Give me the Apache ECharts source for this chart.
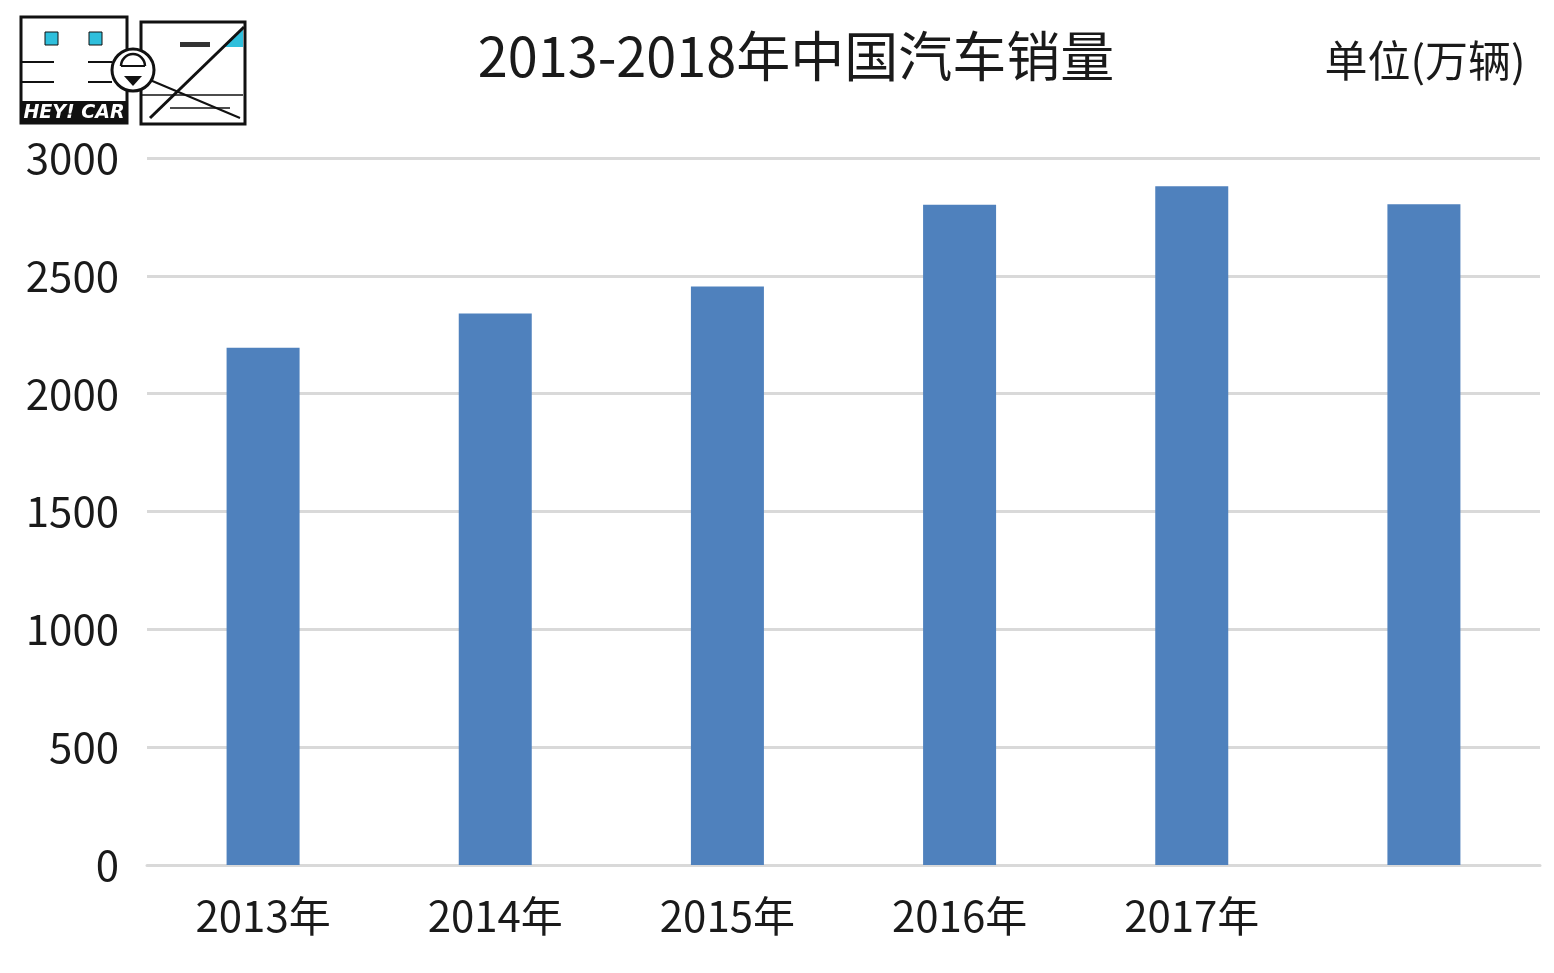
<!DOCTYPE html>
<html>
<head>
<meta charset="utf-8">
<script src="https://cdn.jsdelivr.net/npm/echarts@6/dist/echarts.min.js"></script>
<style>
html,body{margin:0;padding:0;background:#fff;}
#main{width:1554px;height:973px;}
</style>
</head>
<body>
<div id="main"></div>
<script>
const categories = ['2013年', '2014年', '2015年', '2016年', '2017年', ''];
const sales = [2195, 2340, 2455, 2802, 2880, 2804];
const titleText = '2013-2018年中国汽车销量';
const unitText = '单位(万辆)';

const FONT = '"Noto Sans CJK SC", "Noto Sans", sans-serif';
const chart = echarts.init(document.getElementById('main'));

const logo = [
  // left box
  {type:'rect', shape:{x:21,y:17,width:106,height:106}, style:{fill:'#fff', stroke:'#111', lineWidth:3}},
  {type:'rect', shape:{x:21,y:101,width:106,height:23}, style:{fill:'#111'}},
  {type:'text', style:{x:74, y:113, text:'HEY! CAR', fill:'#fff', font:'italic bold 19px "DejaVu Sans", sans-serif', align:'center', verticalAlign:'middle'}},
  {type:'rect', shape:{x:45,y:32,width:13,height:13}, style:{fill:'#2fbfdc', stroke:'#111', lineWidth:1}},
  {type:'rect', shape:{x:89,y:32,width:13,height:13}, style:{fill:'#2fbfdc', stroke:'#111', lineWidth:1}},
  {type:'line', shape:{x1:21,y1:62,x2:54,y2:62}, style:{stroke:'#111', lineWidth:2}},
  {type:'line', shape:{x1:21,y1:82,x2:54,y2:82}, style:{stroke:'#111', lineWidth:2}},
  {type:'line', shape:{x1:88,y1:62,x2:112,y2:62}, style:{stroke:'#111', lineWidth:2}},
  {type:'line', shape:{x1:88,y1:82,x2:112,y2:82}, style:{stroke:'#111', lineWidth:2}},
  // right box
  {type:'rect', shape:{x:141,y:22,width:104,height:102}, style:{fill:'#fff', stroke:'#111', lineWidth:3}},
  {type:'polygon', shape:{points:[[243,28],[243,47],[224,47]]}, style:{fill:'#2fbfdc'}},
  {type:'line', shape:{x1:244,y1:27,x2:150,y2:118}, style:{stroke:'#111', lineWidth:3}},
  {type:'line', shape:{x1:150,y1:80,x2:240,y2:118}, style:{stroke:'#111', lineWidth:2}},
  {type:'line', shape:{x1:141,y1:95,x2:243,y2:95}, style:{stroke:'#111', lineWidth:1.5}},
  {type:'line', shape:{x1:170,y1:108,x2:230,y2:108}, style:{stroke:'#111', lineWidth:1.5}},
  {type:'rect', shape:{x:180,y:42,width:30,height:5}, style:{fill:'#333'}},
  // face
  {type:'circle', shape:{cx:133,cy:70,r:21}, style:{fill:'#fff', stroke:'#111', lineWidth:3}},
  {type:'arc', shape:{cx:133,cy:66,r:12,startAngle:Math.PI,endAngle:2*Math.PI}, style:{stroke:'#111', lineWidth:2.5, fill:null}},
  {type:'line', shape:{x1:121,y1:66,x2:145,y2:66}, style:{stroke:'#111', lineWidth:2}},
  {type:'polygon', shape:{points:[[124,76],[142,76],[133,86]]}, style:{fill:'#111'}}
];

chart.setOption({
  backgroundColor: '#fff',
  animation: false,
  title: [
    {text: titleText, left: 791, top: 24, textAlign: 'center',
     textStyle: {fontFamily: FONT, fontSize: 54, fontWeight: 'normal', color: '#1a1a1a'}},
    {text: unitText, left: 1420, top: 34, textAlign: 'center',
     textStyle: {fontFamily: FONT, fontSize: 43, fontWeight: 'normal', color: '#1a1a1a'}}
  ],
  grid: {left: 147, right: 14, top: 158, bottom: 108, containLabel: false},
  xAxis: {
    type: 'category',
    data: categories,
    axisLine: {lineStyle: {color: '#d9d9d9', width: 3}},
    axisTick: {show: false},
    axisLabel: {fontFamily: FONT, fontSize: 42, color: '#1a1a1a', margin: 30}
  },
  yAxis: {
    type: 'value',
    min: 0, max: 3000, interval: 500,
    axisLine: {show: false},
    axisTick: {show: false},
    splitLine: {lineStyle: {color: '#d9d9d9', width: 3}},
    axisLabel: {fontFamily: FONT, fontSize: 42, color: '#1a1a1a', margin: 28,
      formatter: function (v) { return String(v); }}
  },
  series: [{
    type: 'bar',
    data: sales,
    barWidth: 73,
    itemStyle: {color: '#4f81bd'}
  }],
  graphic: logo
});
</script>
</body>
</html>
